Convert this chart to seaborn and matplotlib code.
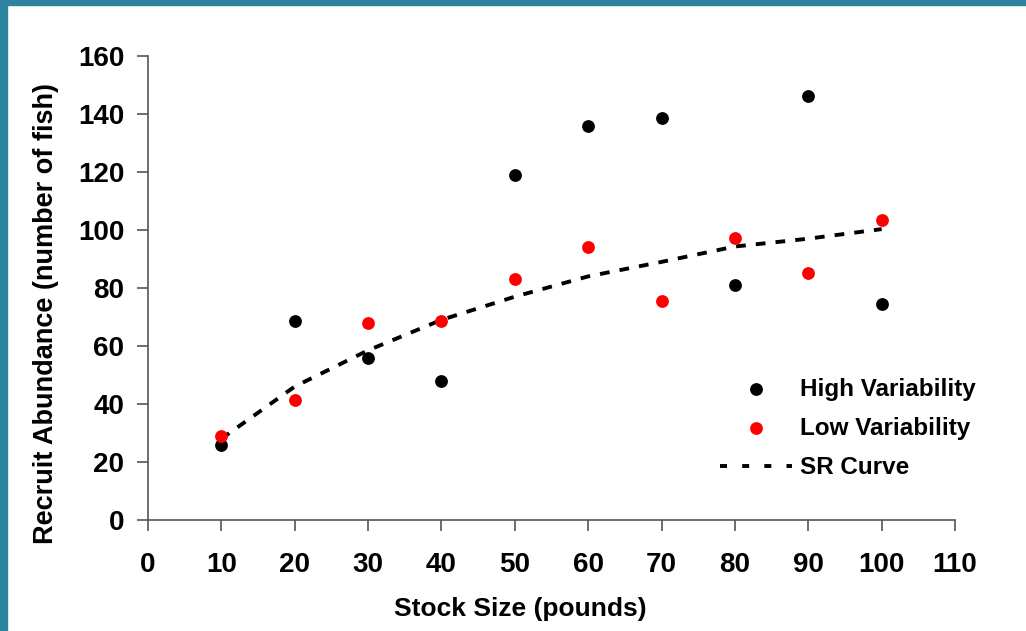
import numpy as np
import pandas as pd
import matplotlib
matplotlib.use('Agg')
import matplotlib.pyplot as plt
import seaborn as sns
from matplotlib.patches import Rectangle

# values
stock = [10, 20, 30, 40, 50, 60, 70, 80, 90, 100]
high_var = [26, 68.6, 56, 48, 119, 136, 138.6, 81, 146.2, 74.5]
low_var = [29, 41.4, 68, 68.6, 83, 94.1, 75.5, 97.2, 85, 103.4]
sr_curve = [28, 46, 58.5, 69, 77, 84, 89, 94.3, 97, 100.3]
xticks = list(range(0, 111, 10))
yticks = list(range(0, 161, 20))

df = pd.DataFrame({'stock': stock, 'high': high_var, 'low': low_var, 'sr': sr_curve})

sns.set_style('ticks')
plt.rcParams['font.family'] = ['Liberation Sans', 'DejaVu Sans']
plt.rcParams['font.weight'] = 'bold'
for key in ['text.color', 'axes.labelcolor', 'xtick.labelcolor', 'ytick.labelcolor']:
    plt.rcParams[key] = 'black'

fig = plt.figure(figsize=(10.26, 6.31), dpi=100)
ax = fig.add_axes([0.1442, 0.1759, 0.7866, 0.7354])

dash = (0, (2.5, 2.6))
sns.scatterplot(data=df, x='stock', y='high', color='black', s=85, linewidth=0,
                label='High Variability', ax=ax, zorder=3)
sns.scatterplot(data=df, x='stock', y='low', color='#ff0000', s=85, linewidth=0,
                label='Low Variability', ax=ax, zorder=4)
sns.lineplot(data=df, x='stock', y='sr', color='black', linewidth=2.8,
             dashes=False, label='SR Curve', ax=ax, zorder=2)
ax.lines[-1].set_linestyle(dash)

ax.set_xlim(0, 110)
ax.set_ylim(0, 160)
ax.set_xticks(xticks)
ax.set_yticks(yticks)
ax.tick_params(axis='x', length=8, width=1.2, pad=15, labelsize=20, color='#555555')
ax.tick_params(axis='y', length=8, width=1.2, pad=9, labelsize=20, color='#555555')
for lab in ax.get_xticklabels() + ax.get_yticklabels():
    lab.set_fontweight('bold')
sns.despine(ax=ax)
for side in ['left', 'bottom']:
    ax.spines[side].set_color('#555555')
    ax.spines[side].set_linewidth(1.2)

ax.set_xlabel('Stock Size (pounds)', fontsize=19, fontweight='bold', labelpad=14)
ax.set_ylabel('Recruit Abundance (number of fish)', fontsize=19.5, fontweight='bold', labelpad=14)
# labels sit a bit off-centre in the reference
ax.xaxis.label.set_x(0.461)
ax.yaxis.label.set_y(0.446)

leg = ax.legend(loc='upper left', bbox_to_anchor=(0.709, 0.307), frameon=False,
                prop={'size': 17.5, 'weight': 'bold'}, handlelength=2.96,
                handletextpad=0.33, labelspacing=0.67, borderpad=0, borderaxespad=0)
leg.get_lines()[0].set_linestyle((0, (1.8, 3.9)))

# teal slide frame on top and left
fig.patches.append(Rectangle((0, 1 - 5 / 631), 1, 5 / 631, transform=fig.transFigure,
                             color='#2e849e', zorder=0))
fig.patches.append(Rectangle((0, 0), 7 / 1026, 1, transform=fig.transFigure,
                             color='#2e849e', zorder=0))

fig.savefig('out.png', dpi=100)
